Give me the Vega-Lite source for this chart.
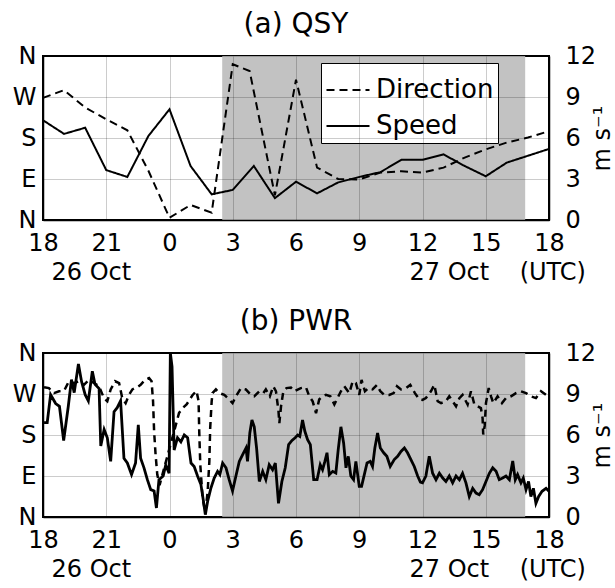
{
  "$schema": "https://vega.github.io/schema/vega-lite/v6.json",
  "background": "white",
  "padding": {"left": 11, "top": 10, "right": 0, "bottom": 0},
  "spacing": 22,
  "config": {
    "font": "DejaVu Sans",
    "view": {"stroke": "black", "strokeWidth": 2},
    "axis": {
      "labelFont": "DejaVu Sans", "labelFontSize": 24, "labelColor": "black",
      "titleFont": "DejaVu Sans", "titleFontSize": 24, "titleFontWeight": "normal", "titleColor": "black",
      "ticks": false, "tickSize": 0, "domainColor": "black", "domainWidth": 1.5,
      "gridColor": "black", "gridOpacity": 0.2, "gridWidth": 1,
      "labelFlush": false, "labelOverlap": false, "labelBound": false
    },
    "title": {"font": "DejaVu Sans", "fontSize": 28, "fontWeight": "normal", "color": "black", "anchor": "middle", "offset": 5}
  },
  "resolve": {"scale": {"strokeDash": "independent"}, "legend": {"strokeDash": "independent"}},
  "datasets": {
    "shade": [{"start": 8.5, "end": 22.87}],
    "a_dir": [
      {"h": 0, "dir": 268}, {"h": 1, "dir": 285}, {"h": 2, "dir": 247}, {"h": 3, "dir": 221},
      {"h": 4, "dir": 197}, {"h": 5, "dir": 108}, {"h": 6, "dir": 5}, {"h": 7, "dir": 33},
      {"h": 8, "dir": 16}, {"h": 9, "dir": 342}, {"h": 9.8, "dir": 327}, {"h": 11, "dir": 54},
      {"h": 12, "dir": 308}, {"h": 13, "dir": 115}, {"h": 14, "dir": 90}, {"h": 15, "dir": 89},
      {"h": 16, "dir": 104}, {"h": 17, "dir": 107}, {"h": 18, "dir": 104}, {"h": 19, "dir": 115},
      {"h": 20, "dir": 137}, {"h": 21, "dir": 155}, {"h": 22, "dir": 170}, {"h": 23, "dir": 181},
      {"h": 24, "dir": 195}
    ],
    "a_spd": [
      {"h": 0, "spd": 7.3}, {"h": 1, "spd": 6.3}, {"h": 2, "spd": 6.75}, {"h": 3, "spd": 3.65},
      {"h": 4, "spd": 3.15}, {"h": 5, "spd": 6.15}, {"h": 6, "spd": 8.1}, {"h": 7, "spd": 3.95},
      {"h": 8, "spd": 1.88}, {"h": 9, "spd": 2.2}, {"h": 10, "spd": 3.95}, {"h": 11, "spd": 1.6},
      {"h": 12, "spd": 2.8}, {"h": 13, "spd": 1.95}, {"h": 14, "spd": 2.75}, {"h": 15, "spd": 3.15},
      {"h": 16, "spd": 3.5}, {"h": 17, "spd": 4.4}, {"h": 18, "spd": 4.4}, {"h": 19, "spd": 4.8},
      {"h": 20, "spd": 3.95}, {"h": 21, "spd": 3.2}, {"h": 22, "spd": 4.2}, {"h": 23, "spd": 4.7},
      {"h": 24, "spd": 5.2}
    ],
    "b_dir": [
      {"h": 0.05, "dir": 285}, {"h": 0.28, "dir": 283}, {"h": 0.52, "dir": 272}, {"h": 0.76, "dir": 276},
      {"h": 1.0, "dir": 277}, {"h": 1.23, "dir": 298}, {"h": 1.47, "dir": 294}, {"h": 1.71, "dir": 298},
      {"h": 1.94, "dir": 290}, {"h": 2.18, "dir": 301}, {"h": 2.42, "dir": 294}, {"h": 2.66, "dir": 287},
      {"h": 2.89, "dir": 261}, {"h": 3.05, "dir": 254}, {"h": 3.21, "dir": 280}, {"h": 3.42, "dir": 298},
      {"h": 3.61, "dir": 294}, {"h": 3.76, "dir": 261}, {"h": 3.92, "dir": 250}, {"h": 4.08, "dir": 268},
      {"h": 4.24, "dir": 280}, {"h": 4.47, "dir": 285}, {"h": 4.63, "dir": 290}, {"h": 4.84, "dir": 301},
      {"h": 5.03, "dir": 305}, {"h": 5.15, "dir": 298}, {"h": 5.22, "dir": 254}, {"h": 5.27, "dir": 188},
      {"h": 5.34, "dir": 137}, {"h": 5.42, "dir": 93}, {"h": 5.53, "dir": 70}, {"h": 6.45, "dir": 228},
      {"h": 6.62, "dir": 239}, {"h": 6.81, "dir": 247}, {"h": 7.1, "dir": 268}, {"h": 7.28, "dir": 277},
      {"h": 7.38, "dir": 254}, {"h": 7.41, "dir": 188}, {"h": 7.46, "dir": 115}, {"h": 7.57, "dir": 42},
      {"h": 7.7, "dir": 9}, {"h": 7.81, "dir": 56}, {"h": 7.89, "dir": 122}, {"h": 7.93, "dir": 195},
      {"h": 8.0, "dir": 254}, {"h": 8.04, "dir": 272}, {"h": 8.2, "dir": 280}, {"h": 8.36, "dir": 272},
      {"h": 8.6, "dir": 268}, {"h": 8.76, "dir": 261}, {"h": 8.99, "dir": 250}, {"h": 9.15, "dir": 265},
      {"h": 9.39, "dir": 283}, {"h": 9.62, "dir": 280}, {"h": 9.86, "dir": 268}, {"h": 10.02, "dir": 265},
      {"h": 10.26, "dir": 276}, {"h": 10.45, "dir": 272}, {"h": 10.57, "dir": 280}, {"h": 10.76, "dir": 265},
      {"h": 10.92, "dir": 287}, {"h": 11.05, "dir": 276}, {"h": 11.17, "dir": 232}, {"h": 11.21, "dir": 206},
      {"h": 11.29, "dir": 243}, {"h": 11.4, "dir": 276}, {"h": 11.55, "dir": 283}, {"h": 11.76, "dir": 284},
      {"h": 11.92, "dir": 276}, {"h": 12.23, "dir": 283}, {"h": 12.47, "dir": 285}, {"h": 12.63, "dir": 265},
      {"h": 12.79, "dir": 254}, {"h": 12.95, "dir": 228}, {"h": 13.1, "dir": 258}, {"h": 13.26, "dir": 265},
      {"h": 13.42, "dir": 268}, {"h": 13.63, "dir": 265}, {"h": 13.82, "dir": 247}, {"h": 13.97, "dir": 261},
      {"h": 14.13, "dir": 276}, {"h": 14.29, "dir": 287}, {"h": 14.53, "dir": 272}, {"h": 14.69, "dir": 298},
      {"h": 14.84, "dir": 294}, {"h": 15.0, "dir": 268}, {"h": 15.11, "dir": 301}, {"h": 15.27, "dir": 276},
      {"h": 15.43, "dir": 283}, {"h": 15.63, "dir": 280}, {"h": 15.84, "dir": 290}, {"h": 16.0, "dir": 276},
      {"h": 16.19, "dir": 268}, {"h": 16.42, "dir": 268}, {"h": 16.63, "dir": 272}, {"h": 16.79, "dir": 287},
      {"h": 16.98, "dir": 280}, {"h": 17.22, "dir": 283}, {"h": 17.42, "dir": 290}, {"h": 17.64, "dir": 272},
      {"h": 17.85, "dir": 258}, {"h": 18.0, "dir": 257}, {"h": 18.16, "dir": 261}, {"h": 18.4, "dir": 276},
      {"h": 18.56, "dir": 290}, {"h": 18.72, "dir": 254}, {"h": 18.88, "dir": 250}, {"h": 19.11, "dir": 254},
      {"h": 19.27, "dir": 265}, {"h": 19.43, "dir": 254}, {"h": 19.59, "dir": 243}, {"h": 19.75, "dir": 261},
      {"h": 19.9, "dir": 268}, {"h": 20.14, "dir": 247}, {"h": 20.3, "dir": 276}, {"h": 20.46, "dir": 247},
      {"h": 20.62, "dir": 243}, {"h": 20.77, "dir": 239}, {"h": 20.85, "dir": 217}, {"h": 20.88, "dir": 181},
      {"h": 20.95, "dir": 200}, {"h": 21.01, "dir": 250}, {"h": 21.14, "dir": 283}, {"h": 21.25, "dir": 265},
      {"h": 21.36, "dir": 250}, {"h": 21.56, "dir": 265}, {"h": 21.77, "dir": 250}, {"h": 21.96, "dir": 261},
      {"h": 22.2, "dir": 265}, {"h": 22.43, "dir": 272}, {"h": 22.67, "dir": 276}, {"h": 22.91, "dir": 272},
      {"h": 23.14, "dir": 265}, {"h": 23.38, "dir": 261}, {"h": 23.62, "dir": 276}, {"h": 23.86, "dir": 268},
      {"h": 24.0, "dir": 265}
    ],
    "b_spd": [
      {"h": 0.05, "spd": 6.9}, {"h": 0.2, "spd": 6.9}, {"h": 0.36, "spd": 8.95}, {"h": 0.6, "spd": 8.3},
      {"h": 0.78, "spd": 8.1}, {"h": 0.98, "spd": 5.6}, {"h": 1.2, "spd": 8.1}, {"h": 1.35, "spd": 10.05},
      {"h": 1.48, "spd": 9.1}, {"h": 1.68, "spd": 11.2}, {"h": 1.83, "spd": 9.9}, {"h": 2.0, "spd": 8.95},
      {"h": 2.15, "spd": 8.5}, {"h": 2.34, "spd": 10.66}, {"h": 2.47, "spd": 9.7}, {"h": 2.66, "spd": 9.4},
      {"h": 2.74, "spd": 5.2}, {"h": 2.9, "spd": 6.4}, {"h": 3.05, "spd": 5.8}, {"h": 3.21, "spd": 4.07},
      {"h": 3.37, "spd": 7.7}, {"h": 3.52, "spd": 8.0}, {"h": 3.68, "spd": 8.5}, {"h": 3.84, "spd": 4.3},
      {"h": 4.0, "spd": 3.95}, {"h": 4.2, "spd": 3.1}, {"h": 4.39, "spd": 3.95}, {"h": 4.52, "spd": 6.75},
      {"h": 4.63, "spd": 4.3}, {"h": 4.79, "spd": 3.6}, {"h": 4.95, "spd": 2.73}, {"h": 5.11, "spd": 2.0},
      {"h": 5.27, "spd": 1.9}, {"h": 5.38, "spd": 0.66}, {"h": 5.5, "spd": 2.73}, {"h": 5.7, "spd": 3.0},
      {"h": 5.82, "spd": 3.8}, {"h": 5.98, "spd": 3.2}, {"h": 6.04, "spd": 12.0}, {"h": 6.12, "spd": 11.0},
      {"h": 6.22, "spd": 4.9}, {"h": 6.38, "spd": 5.8}, {"h": 6.54, "spd": 5.5}, {"h": 6.7, "spd": 6.0},
      {"h": 6.86, "spd": 5.8}, {"h": 7.02, "spd": 3.95}, {"h": 7.17, "spd": 3.7}, {"h": 7.33, "spd": 3.0},
      {"h": 7.49, "spd": 2.37}, {"h": 7.6, "spd": 1.27}, {"h": 7.7, "spd": 0.17}, {"h": 7.81, "spd": 1.15},
      {"h": 7.96, "spd": 2.1}, {"h": 8.12, "spd": 2.85}, {"h": 8.28, "spd": 3.34}, {"h": 8.39, "spd": 3.1},
      {"h": 8.52, "spd": 3.95}, {"h": 8.68, "spd": 3.6}, {"h": 8.83, "spd": 2.73}, {"h": 8.99, "spd": 1.9},
      {"h": 9.15, "spd": 3.0}, {"h": 9.31, "spd": 4.07}, {"h": 9.47, "spd": 4.56}, {"h": 9.63, "spd": 5.05},
      {"h": 9.7, "spd": 4.07}, {"h": 9.81, "spd": 6.15}, {"h": 9.91, "spd": 7.1}, {"h": 10.02, "spd": 6.6},
      {"h": 10.13, "spd": 5.05}, {"h": 10.26, "spd": 2.6}, {"h": 10.42, "spd": 3.34}, {"h": 10.57, "spd": 2.73},
      {"h": 10.73, "spd": 3.83}, {"h": 10.89, "spd": 3.46}, {"h": 11.02, "spd": 3.95}, {"h": 11.17, "spd": 1.0},
      {"h": 11.33, "spd": 2.6}, {"h": 11.49, "spd": 3.6}, {"h": 11.65, "spd": 5.3}, {"h": 11.81, "spd": 5.6},
      {"h": 11.96, "spd": 5.8}, {"h": 12.08, "spd": 6.0}, {"h": 12.18, "spd": 5.9}, {"h": 12.31, "spd": 7.1},
      {"h": 12.42, "spd": 6.27}, {"h": 12.55, "spd": 5.66}, {"h": 12.68, "spd": 5.3}, {"h": 12.84, "spd": 2.73},
      {"h": 13.0, "spd": 2.73}, {"h": 13.15, "spd": 3.83}, {"h": 13.26, "spd": 3.46}, {"h": 13.37, "spd": 4.07},
      {"h": 13.47, "spd": 4.7}, {"h": 13.58, "spd": 3.1}, {"h": 13.74, "spd": 3.34}, {"h": 13.89, "spd": 3.22},
      {"h": 14.0, "spd": 4.9}, {"h": 14.13, "spd": 6.6}, {"h": 14.26, "spd": 5.4}, {"h": 14.37, "spd": 3.6},
      {"h": 14.48, "spd": 4.44}, {"h": 14.6, "spd": 3.0}, {"h": 14.73, "spd": 2.73}, {"h": 14.84, "spd": 4.07},
      {"h": 15.0, "spd": 2.24}, {"h": 15.11, "spd": 2.24}, {"h": 15.24, "spd": 3.1}, {"h": 15.37, "spd": 3.95},
      {"h": 15.52, "spd": 4.07}, {"h": 15.63, "spd": 3.7}, {"h": 15.74, "spd": 5.05}, {"h": 15.87, "spd": 6.15},
      {"h": 16.0, "spd": 5.05}, {"h": 16.16, "spd": 4.7}, {"h": 16.31, "spd": 4.44}, {"h": 16.47, "spd": 3.7},
      {"h": 16.66, "spd": 4.2}, {"h": 16.82, "spd": 4.44}, {"h": 16.98, "spd": 4.8}, {"h": 17.14, "spd": 5.05},
      {"h": 17.29, "spd": 4.7}, {"h": 17.45, "spd": 4.2}, {"h": 17.61, "spd": 3.7}, {"h": 17.77, "spd": 3.0},
      {"h": 17.9, "spd": 2.55}, {"h": 18.0, "spd": 2.5}, {"h": 18.16, "spd": 3.0}, {"h": 18.32, "spd": 4.44},
      {"h": 18.48, "spd": 3.2}, {"h": 18.64, "spd": 2.73}, {"h": 18.8, "spd": 3.2}, {"h": 18.96, "spd": 2.85},
      {"h": 19.11, "spd": 2.6}, {"h": 19.27, "spd": 3.0}, {"h": 19.43, "spd": 2.5}, {"h": 19.59, "spd": 3.0},
      {"h": 19.75, "spd": 2.73}, {"h": 19.9, "spd": 3.2}, {"h": 20.06, "spd": 2.5}, {"h": 20.22, "spd": 1.5},
      {"h": 20.38, "spd": 2.1}, {"h": 20.54, "spd": 1.75}, {"h": 20.69, "spd": 1.63}, {"h": 20.85, "spd": 2.0},
      {"h": 21.01, "spd": 2.6}, {"h": 21.17, "spd": 3.2}, {"h": 21.33, "spd": 3.6}, {"h": 21.49, "spd": 3.34},
      {"h": 21.64, "spd": 2.73}, {"h": 21.8, "spd": 2.85}, {"h": 21.96, "spd": 3.0}, {"h": 22.12, "spd": 2.73},
      {"h": 22.28, "spd": 4.1}, {"h": 22.4, "spd": 2.73}, {"h": 22.51, "spd": 3.1}, {"h": 22.67, "spd": 2.5},
      {"h": 22.78, "spd": 2.85}, {"h": 22.91, "spd": 2.0}, {"h": 23.03, "spd": 2.6}, {"h": 23.14, "spd": 1.5},
      {"h": 23.26, "spd": 2.1}, {"h": 23.38, "spd": 1.0}, {"h": 23.51, "spd": 1.5}, {"h": 23.67, "spd": 1.88},
      {"h": 23.86, "spd": 2.1}, {"h": 24.0, "spd": 1.88}
    ]
  },
  "vconcat": [
    {
      "width": 506, "height": 164,
      "title": {"text": "(a) QSY"},
      "layer": [
        {
          "layer": [
            {
              "data": {"name": "shade"},
              "mark": {"type": "rect", "color": "#c2c2c2"},
              "encoding": {
                "x": {"field": "start", "type": "quantitative", "scale": {"domain": [0, 24], "nice": false},
                  "axis": {"values": [0, 3, 6, 9, 12, 15, 18, 21, 24], "labelExpr": "'' + ((datum.value + 18) % 24)",
                    "labelPadding": 11, "grid": true, "zindex": 1, "domain": true,
                    "title": "26 Oct", "titleAlign": "left", "titleAnchor": null, "titleX": 8, "titleY": 59, "titleBaseline": "alphabetic"}},
                "x2": {"field": "end"},
                "y": {"datum": 0, "type": "quantitative", "scale": {"domain": [0, 360], "nice": false},
                  "axis": {"values": [0, 90, 180, 270, 360],
                    "labelExpr": "datum.value == 90 ? 'E' : datum.value == 180 ? 'S' : datum.value == 270 ? 'W' : 'N'",
                    "labelPadding": 7, "grid": true, "zindex": 1, "domain": true, "title": null}},
                "y2": {"datum": 360}
              }
            },
            {
              "data": {"name": "a_dir"},
              "mark": {"type": "line", "color": "black", "strokeWidth": 2},
              "encoding": {
                "x": {"field": "h", "type": "quantitative"},
                "y": {"field": "dir", "type": "quantitative"},
                "strokeDash": {"datum": "Direction", "type": "nominal",
                  "scale": {"domain": ["Direction", "Speed"], "range": [[8, 5], [1, 0]]},
                  "legend": {"orient": "none", "legendX": 278, "legendY": 7, "title": null,
                    "fillColor": "white", "strokeColor": "black", "padding": 4,
                    "labelFont": "DejaVu Sans", "labelFontSize": 26, "labelColor": "black",
                    "symbolType": "stroke", "symbolSize": 1850, "symbolStrokeWidth": 2, "symbolStrokeColor": "black",
                    "labelOffset": 5, "rowPadding": 0}}
              }
            }
          ]
        },
        {
          "data": {"name": "a_spd"},
          "mark": {"type": "line", "color": "black", "strokeWidth": 2},
          "encoding": {
            "x": {"field": "h", "type": "quantitative",
              "axis": {"orient": "bottom", "labels": false, "grid": false, "domain": false,
                "title": "27 Oct\u00a0\u00a0\u00a0\u00a0(UTC)", "titleAlign": "left", "titleAnchor": null, "titleX": 366, "titleY": 59, "titleBaseline": "alphabetic"}},
            "y": {"field": "spd", "type": "quantitative", "scale": {"domain": [0, 12], "nice": false},
              "axis": {"orient": "right", "values": [0, 3, 6, 9, 12], "labelPadding": 16, "grid": false, "domain": true,
                "title": "m s\u207b\u00b9", "titleAngle": 270, "titleBaseline": "top", "titlePadding": -5}},
            "strokeDash": {"datum": "Speed", "type": "nominal"}
          }
        }
      ],
      "resolve": {"scale": {"y": "independent"}, "axis": {"x": "independent"}}
    },
    {
      "width": 506, "height": 164,
      "title": {"text": "(b) PWR"},
      "layer": [
        {
          "layer": [
            {
              "data": {"name": "shade"},
              "mark": {"type": "rect", "color": "#c2c2c2"},
              "encoding": {
                "x": {"field": "start", "type": "quantitative", "scale": {"domain": [0, 24], "nice": false},
                  "axis": {"values": [0, 3, 6, 9, 12, 15, 18, 21, 24], "labelExpr": "'' + ((datum.value + 18) % 24)",
                    "labelPadding": 11, "grid": true, "zindex": 1, "domain": true,
                    "title": "26 Oct", "titleAlign": "left", "titleAnchor": null, "titleX": 8, "titleY": 59, "titleBaseline": "alphabetic"}},
                "x2": {"field": "end"},
                "y": {"datum": 0, "type": "quantitative", "scale": {"domain": [0, 360], "nice": false},
                  "axis": {"values": [0, 90, 180, 270, 360],
                    "labelExpr": "datum.value == 90 ? 'E' : datum.value == 180 ? 'S' : datum.value == 270 ? 'W' : 'N'",
                    "labelPadding": 7, "grid": true, "zindex": 1, "domain": true, "title": null}},
                "y2": {"datum": 360}
              }
            },
            {
              "data": {"name": "b_dir"},
              "mark": {"type": "line", "color": "black", "strokeWidth": 2.5, "strokeDash": [7, 5]},
              "encoding": {
                "x": {"field": "h", "type": "quantitative"},
                "y": {"field": "dir", "type": "quantitative"}
              }
            }
          ]
        },
        {
          "data": {"name": "b_spd"},
          "mark": {"type": "line", "color": "black", "strokeWidth": 2.8},
          "encoding": {
            "x": {"field": "h", "type": "quantitative",
              "axis": {"orient": "bottom", "labels": false, "grid": false, "domain": false,
                "title": "27 Oct\u00a0\u00a0\u00a0\u00a0(UTC)", "titleAlign": "left", "titleAnchor": null, "titleX": 366, "titleY": 59, "titleBaseline": "alphabetic"}},
            "y": {"field": "spd", "type": "quantitative", "scale": {"domain": [0, 12], "nice": false},
              "axis": {"orient": "right", "values": [0, 3, 6, 9, 12], "labelPadding": 16, "grid": false, "domain": true,
                "title": "m s\u207b\u00b9", "titleAngle": 270, "titleBaseline": "top", "titlePadding": -5}}
          }
        }
      ],
      "resolve": {"scale": {"y": "independent"}, "axis": {"x": "independent"}}
    }
  ]
}
